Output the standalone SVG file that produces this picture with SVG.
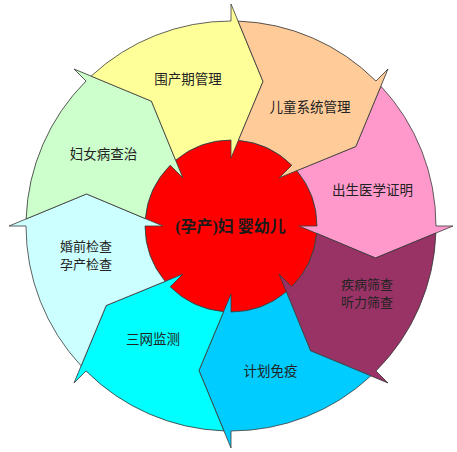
<svg xmlns="http://www.w3.org/2000/svg" xmlns:xlink="http://www.w3.org/1999/xlink" width="457" height="452" viewBox="0 0 457 452">
<style>
.seg{stroke:#3a3a3a;stroke-width:0.8;stroke-linejoin:miter}
.lbl{font-family:"Noto Sans CJK SC","Noto Sans CJK JP",sans-serif;font-size:13.5px;fill:#222;text-anchor:middle}
.lbl2{font-family:"Noto Sans CJK SC","Noto Sans CJK JP",sans-serif;font-size:13px;fill:#222;text-anchor:middle}
.ctr{font-family:"Liberation Serif","Noto Sans CJK SC",serif;font-size:16px;font-weight:bold;fill:#1a1a1a;text-anchor:middle}
</style>
<defs>
<path id="arrowseg" d="M 380.87 86.13 A 205 205 0 0 1 436 226 L 453 226 L 375.49 258.03 L 299 226 L 317 226 A 86 86 0 0 0 296.82 170.65 L 355.82 146.48 Z"/>
</defs>
<rect width="457" height="452" fill="#ffffff"/>
<g id="center-circle">
<circle cx="231" cy="226" r="86" fill="#ff0000" stroke="#3a3a3a" stroke-width="0.8"/>
</g>
<g id="node-birth-cert">
<use xlink:href="#arrowseg" href="#arrowseg" class="seg" fill="#ff99cc"/>
<text class="lbl" x="372.5" y="194.5">出生医学证明</text>
</g>
<g id="node-screening">
<use xlink:href="#arrowseg" href="#arrowseg" class="seg" fill="#993366" transform="rotate(45 231 226)"/>
<text class="lbl2" x="367" y="289">疾病筛查</text>
<text class="lbl2" x="367" y="307">听力筛查</text>
</g>
<g id="node-immunization">
<use xlink:href="#arrowseg" href="#arrowseg" class="seg" fill="#00ccff" transform="rotate(90 231 226)"/>
<text class="lbl" x="270.5" y="375.5">计划免疫</text>
</g>
<g id="node-three-net">
<use xlink:href="#arrowseg" href="#arrowseg" class="seg" fill="#00ffff" transform="rotate(135 231 226)"/>
<text class="lbl" x="153" y="343.5">三网监测</text>
</g>
<g id="node-premarital">
<use xlink:href="#arrowseg" href="#arrowseg" class="seg" fill="#ccffff" transform="rotate(180 231 226)"/>
<text class="lbl2" x="86" y="251">婚前检查</text>
<text class="lbl2" x="86" y="269">孕产检查</text>
</g>
<g id="node-women-disease">
<use xlink:href="#arrowseg" href="#arrowseg" class="seg" fill="#ccffcc" transform="rotate(225 231 226)"/>
<text class="lbl" x="103.5" y="158.5">妇女病查治</text>
</g>
<g id="node-perinatal">
<use xlink:href="#arrowseg" href="#arrowseg" class="seg" fill="#ffff99" transform="rotate(270 231 226)"/>
<text class="lbl" x="188" y="83.5">围产期管理</text>
</g>
<g id="node-child-mgmt">
<use xlink:href="#arrowseg" href="#arrowseg" class="seg" fill="#ffcc99" transform="rotate(315 231 226)"/>
<text class="lbl" x="310" y="111.5">儿童系统管理</text>
</g>
<g id="connectors"/>
<g id="center-label">
<text class="ctr" x="230.5" y="232">(孕产)妇 婴幼儿</text>
</g>
</svg>
